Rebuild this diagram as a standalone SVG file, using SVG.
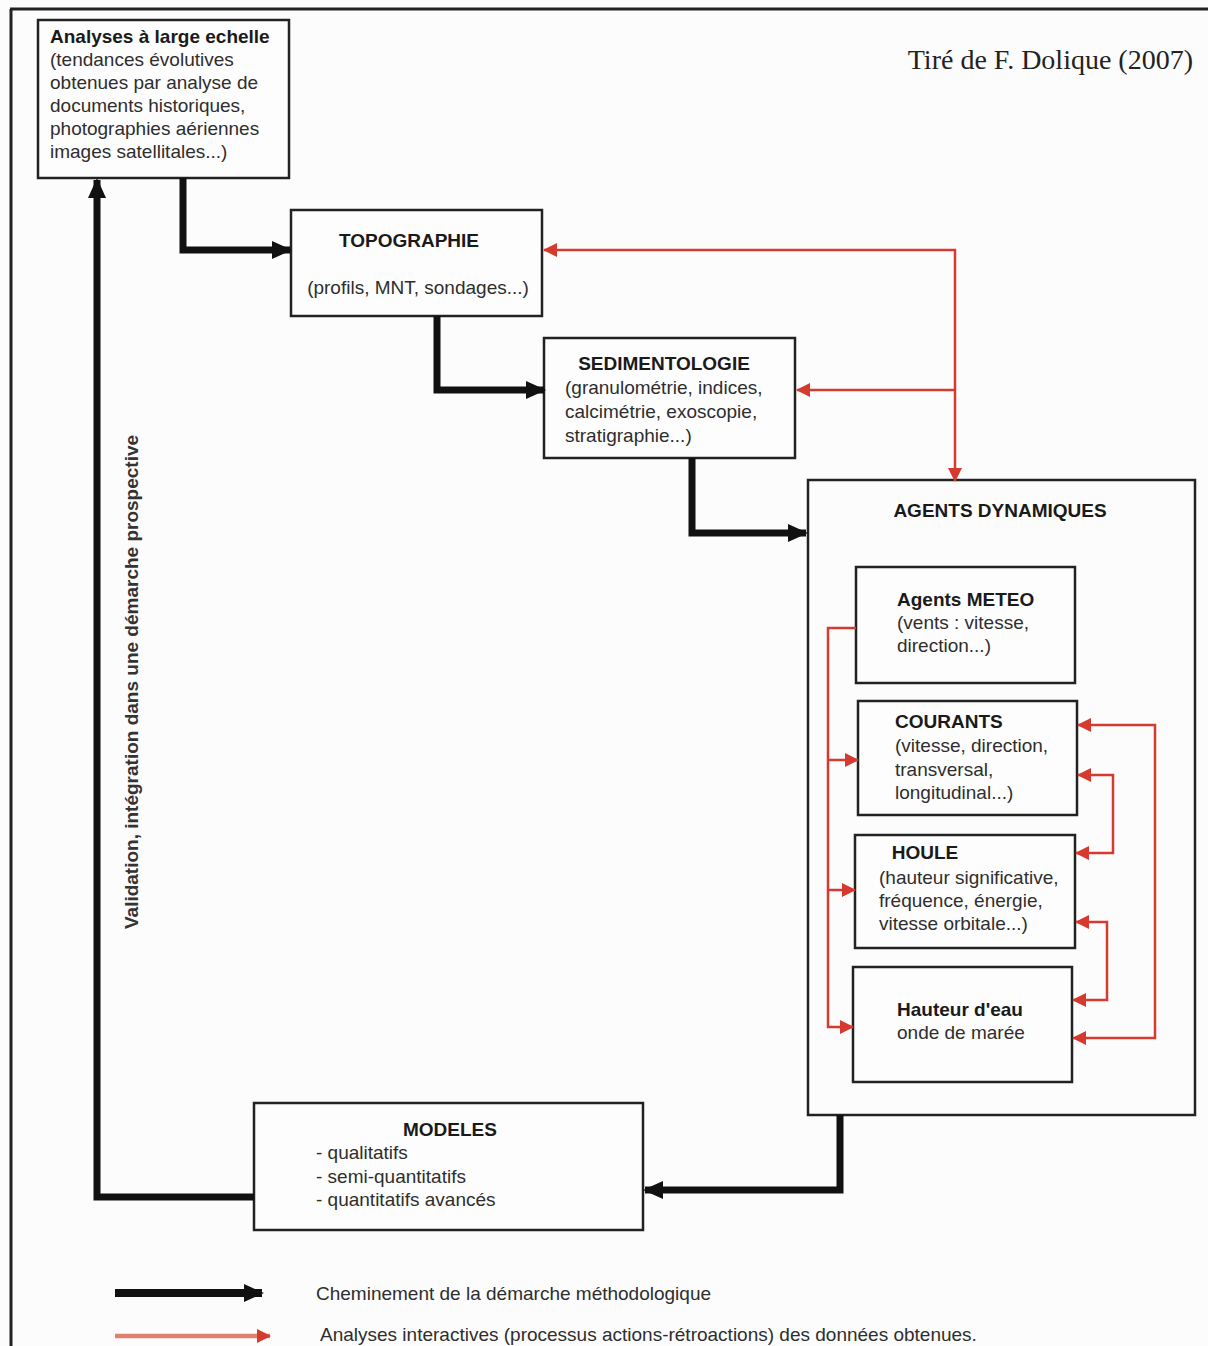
<svg xmlns="http://www.w3.org/2000/svg" width="1208" height="1346" viewBox="0 0 1208 1346">
<defs>
<marker id="ab" markerUnits="userSpaceOnUse" markerWidth="20" markerHeight="20" viewBox="0 0 20 20" refX="18" refY="10" orient="auto">
<path d="M0,1 L20,10 L0,19 Z" fill="#111"/>
</marker>
<marker id="ar" markerUnits="userSpaceOnUse" markerWidth="14" markerHeight="14" viewBox="0 0 14 14" refX="13" refY="7" orient="auto">
<path d="M0,0 L14,7 L0,14 Z" fill="#d63a2e"/>
</marker>
</defs>
<style>
.box{fill:#fdfdfd;stroke:#222;stroke-width:2.5}
.frame{fill:none;stroke:#222;stroke-width:2.5}
.t{font-family:"Liberation Sans",Arial,sans-serif;font-size:19px;fill:#2e2e2e}
.b{font-family:"Liberation Sans",Arial,sans-serif;font-size:19px;font-weight:bold;fill:#1a1a1a}
.blk{fill:none;stroke:#111;stroke-width:7;stroke-linejoin:miter}
.red{fill:none;stroke:#d63a2e;stroke-width:2.5}
</style>
<rect x="0" y="0" width="1208" height="1346" fill="#fcfcfc"/>
<path d="M10,9 H1208 M11,9 V1346" fill="none" stroke="#222" stroke-width="3"/>
<text x="1193" y="69" text-anchor="end" style="font-family:'Liberation Serif','Times New Roman',serif;font-size:28px;fill:#222">Tiré de F. Dolique (2007)</text>

<text transform="translate(138,682) rotate(-90)" text-anchor="middle" class="b" style="fill:#333">Validation, intégration dans une démarche prospective</text>

<g id="analyses">
<rect class="box" x="38" y="20" width="251" height="158"/>
<text class="b" x="50" y="43">Analyses à large echelle</text>
<text class="t" x="50" y="66">(tendances évolutives</text>
<text class="t" x="50" y="89">obtenues par analyse de</text>
<text class="t" x="50" y="112">documents historiques,</text>
<text class="t" x="50" y="135">photographies aériennes</text>
<text class="t" x="50" y="158">images satellitales...)</text>
</g>

<g id="topographie">
<rect class="box" x="291" y="210" width="251" height="106"/>
<text class="b" x="409" y="247" text-anchor="middle">TOPOGRAPHIE</text>
<text class="t" x="418" y="294" text-anchor="middle">(profils, MNT, sondages...)</text>
</g>

<g id="sedimentologie">
<rect class="box" x="544" y="338" width="251" height="120"/>
<text class="b" x="664" y="370" text-anchor="middle">SEDIMENTOLOGIE</text>
<text class="t" x="565" y="394">(granulométrie, indices,</text>
<text class="t" x="565" y="418">calcimétrie, exoscopie,</text>
<text class="t" x="565" y="442">stratigraphie...)</text>
</g>

<g id="agents">
<rect class="frame" x="808" y="480" width="387" height="635"/>
<text class="b" x="1000" y="517" text-anchor="middle">AGENTS DYNAMIQUES</text>
</g>

<g id="meteo">
<rect class="box" x="856" y="567" width="219" height="116"/>
<text class="b" x="897" y="606">Agents METEO</text>
<text class="t" x="897" y="629">(vents : vitesse,</text>
<text class="t" x="897" y="652">direction...)</text>
</g>

<g id="courants">
<rect class="box" x="858" y="701" width="219" height="114"/>
<text class="b" x="895" y="728">COURANTS</text>
<text class="t" x="895" y="752">(vitesse, direction,</text>
<text class="t" x="895" y="776">transversal,</text>
<text class="t" x="895" y="799">longitudinal...)</text>
</g>

<g id="houle">
<rect class="box" x="855" y="835" width="220" height="113"/>
<text class="b" x="925" y="859" text-anchor="middle">HOULE</text>
<text class="t" x="879" y="884">(hauteur significative,</text>
<text class="t" x="879" y="907">fréquence, énergie,</text>
<text class="t" x="879" y="930">vitesse orbitale...)</text>
</g>

<g id="hauteur">
<rect class="box" x="853" y="967" width="219" height="115"/>
<text class="b" x="897" y="1016">Hauteur d'eau</text>
<text class="t" x="897" y="1039">onde de marée</text>
</g>

<g id="modeles">
<rect class="box" x="254" y="1103" width="389" height="127"/>
<text class="b" x="450" y="1136" text-anchor="middle">MODELES</text>
<text class="t" x="316" y="1159">- qualitatifs</text>
<text class="t" x="316" y="1183">- semi-quantitatifs</text>
<text class="t" x="316" y="1206">- quantitatifs avancés</text>
</g>

<g id="connectors">
<path class="blk" d="M183,178 V250 H290" marker-end="url(#ab)"/>
<path class="blk" d="M437,316 V390 H544" marker-end="url(#ab)"/>
<path class="blk" d="M692,458 V533 H806" marker-end="url(#ab)"/>
<path class="blk" d="M840,1115 V1190 H645" marker-end="url(#ab)"/>
<path class="blk" d="M254,1197 H97 V180" marker-end="url(#ab)"/>
<path class="red" d="M955,390 V250 H544" marker-end="url(#ar)"/>
<path class="red" d="M955,390 H797" marker-end="url(#ar)"/>
<path class="red" d="M955,390 V481" marker-end="url(#ar)"/>
<path class="red" d="M856,628 H828 V1027 H853" marker-end="url(#ar)"/>
<path class="red" d="M828,760 H858" marker-end="url(#ar)"/>
<path class="red" d="M828,890 H855" marker-end="url(#ar)"/>
<path class="red" d="M1155,880 V725 H1078" marker-end="url(#ar)"/>
<path class="red" d="M1155,880 V1038 H1073" marker-end="url(#ar)"/>
<path class="red" d="M1113,815 V775 H1078" marker-end="url(#ar)"/>
<path class="red" d="M1113,815 V853 H1076" marker-end="url(#ar)"/>
<path class="red" d="M1107,960 V922 H1076" marker-end="url(#ar)"/>
<path class="red" d="M1107,960 V1000 H1073" marker-end="url(#ar)"/>
</g>

<g id="legend">
<path d="M115,1293 H262" fill="none" stroke="#111" stroke-width="8" marker-end="url(#ab)"/>
<text class="t" x="316" y="1300">Cheminement de la démarche méthodologique</text>
<path d="M115,1336 H270" fill="none" stroke="#e0806e" stroke-width="4.5" marker-end="url(#ar)"/>
<text class="t" x="320" y="1341">Analyses interactives (processus actions-rétroactions) des données obtenues.</text>
</g>
</svg>
